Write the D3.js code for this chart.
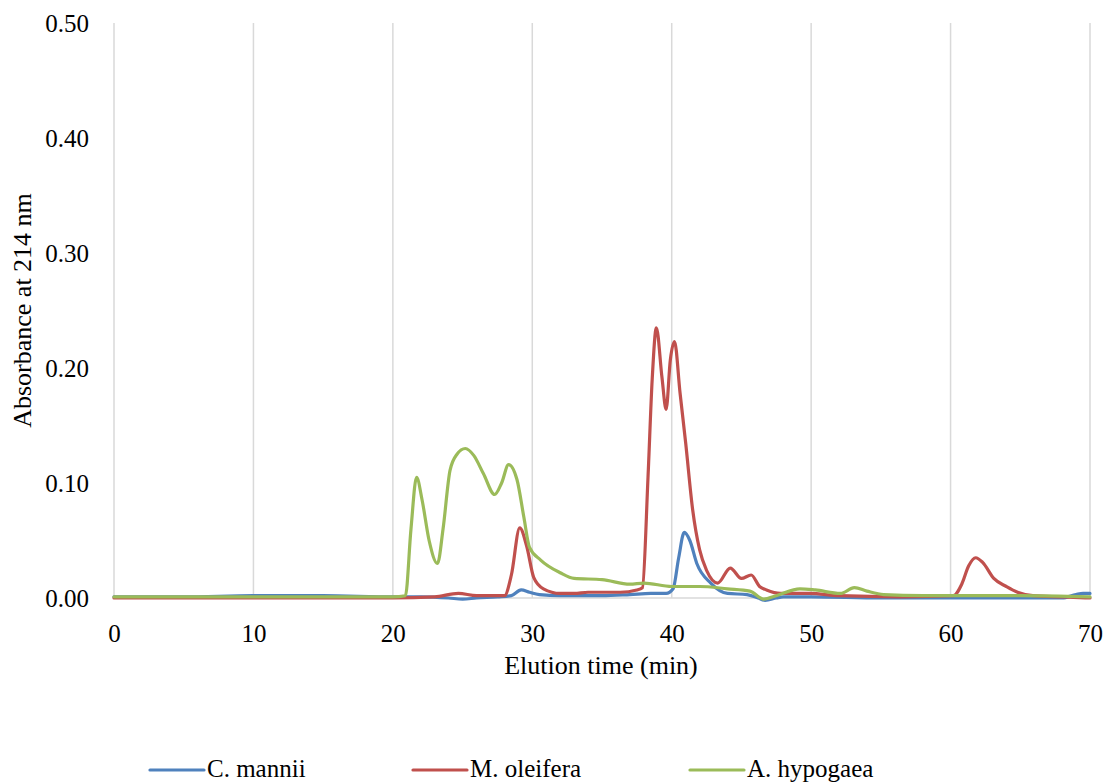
<!DOCTYPE html>
<html>
<head>
<meta charset="utf-8">
<script src="https://cdnjs.cloudflare.com/ajax/libs/d3/7.8.5/d3.min.js"></script>
<style>
  body { margin: 0; background: #fff; }
  svg text { font-family: "Liberation Serif", "Times New Roman", serif; fill: #000; }
</style>
</head>
<body>
<div id="chart"></div>
<script>
// elution time (min) and absorbance
var mannii_t = [0, 5, 10, 15, 20, 22, 24, 25, 26, 27.5, 28.5, 29.2, 29.8, 30.5, 32, 35, 37, 38.5, 39.6, 40.1, 40.5, 40.9, 41.3, 41.8, 42.8, 44, 45.4, 46.2, 46.7, 47.5, 48, 50, 55, 60, 65, 68, 69, 69.5, 70];
var mannii_v = [0.001, 0.001, 0.002, 0.002, 0.001, 0.001, 0.000, -0.001, 0.000, 0.001, 0.002, 0.007, 0.005, 0.003, 0.002, 0.002, 0.003, 0.004, 0.004, 0.008, 0.035, 0.057, 0.050, 0.030, 0.013, 0.004, 0.003, 0.000, -0.002, 0.000, 0.001, 0.001, 0.000, 0.000, 0.000, 0.000, 0.003, 0.004, 0.004];

var oleifera_t = [0, 10, 20, 23, 24.7, 26, 28, 28.5, 29.1, 29.6, 30.1, 30.8, 32, 33, 34, 35, 36.3, 37.5, 37.9, 38.3, 38.6, 38.9, 39.3, 39.6, 39.9, 40.2, 40.6, 41.0, 41.5, 42.0, 42.5, 43.3, 44.2, 45, 45.7, 46.3, 46.8, 47.8, 49.9, 52, 56.4, 60.2, 60.8, 61.3, 61.8, 62.3, 63.1, 64, 64.8, 65.9, 68, 70];
var oleifera_v = [0, 0, 0, 0.001, 0.004, 0.002, 0.002, 0.02, 0.061, 0.045, 0.018, 0.008, 0.004, 0.004, 0.005, 0.005, 0.005, 0.007, 0.009, 0.105, 0.19, 0.235, 0.192, 0.164, 0.207, 0.223, 0.178, 0.135, 0.077, 0.042, 0.024, 0.013, 0.026, 0.017, 0.020, 0.010, 0.007, 0.004, 0.004, 0.002, 0.001, 0.002, 0.012, 0.028, 0.035, 0.031, 0.017, 0.010, 0.005, 0.002, 0.001, 0.000];

var hypogaea_t = [0, 5, 10, 15, 20, 20.9, 21.3, 21.7, 22.1, 22.6, 23.2, 23.6, 24.1, 24.6, 25.2, 25.8, 26.5, 27.3, 27.8, 28.3, 28.9, 29.4, 29.8, 30.6, 32, 33, 35, 37, 38, 40, 42, 44, 45.6, 46.6, 47.5, 49.2, 50.3, 52.1, 53.1, 54, 55.2, 58, 60, 65, 70];
var hypogaea_v = [0.001, 0.001, 0.001, 0.001, 0.001, 0.002, 0.06, 0.105, 0.085, 0.05, 0.030, 0.06, 0.111, 0.125, 0.130, 0.124, 0.108, 0.090, 0.100, 0.116, 0.103, 0.070, 0.044, 0.033, 0.022, 0.017, 0.016, 0.012, 0.013, 0.010, 0.010, 0.008, 0.006, -0.001, 0.002, 0.008, 0.007, 0.004, 0.009, 0.006, 0.003, 0.002, 0.002, 0.002, 0.001];

var seriesNames = ["C. mannii", "M. oleifera", "A. hypogaea"];
var seriesColors = ["#4f81bd", "#c0504d", "#9bbb59"];
var xTicks = [0, 10, 20, 30, 40, 50, 60, 70];
var yTicks = [0, 0.1, 0.2, 0.3, 0.4, 0.5];

var width = 1110, height = 783;
var plotLeft = 114, plotRight = 1090, plotTop = 23, plotBottom = 598;

var svg = d3.select("#chart").append("svg")
    .attr("width", width)
    .attr("height", height);

var x = d3.scaleLinear().domain([0, 70]).range([plotLeft, plotRight]);
var y = d3.scaleLinear().domain([0, 0.5]).range([plotBottom, plotTop]);

// vertical grid lines
svg.append("g")
  .selectAll("line")
  .data(xTicks)
  .enter().append("line")
    .attr("x1", function(d) { return x(d); })
    .attr("x2", function(d) { return x(d); })
    .attr("y1", plotTop)
    .attr("y2", plotBottom)
    .attr("stroke", "#d9d9d9")
    .attr("stroke-width", 1.5);

// bottom axis line
svg.append("line")
    .attr("x1", plotLeft).attr("x2", plotRight)
    .attr("y1", plotBottom).attr("y2", plotBottom)
    .attr("stroke", "#d9d9d9")
    .attr("stroke-width", 1.5);

// x axis labels
var xAxis = d3.axisBottom(x).tickValues(xTicks).tickSize(0).tickPadding(26);
var gx = svg.append("g").attr("transform", "translate(0," + plotBottom + ")").call(xAxis);
gx.select(".domain").remove();
gx.selectAll("text").style("font-size", "25px").style("font-family", "Liberation Serif");

// y axis labels
var yAxis = d3.axisLeft(y).tickValues(yTicks).tickSize(0).tickPadding(25).tickFormat(d3.format(".2f"));
var gy = svg.append("g").attr("transform", "translate(" + plotLeft + ",0)").call(yAxis);
gy.select(".domain").remove();
gy.selectAll("text").style("font-size", "25px").style("font-family", "Liberation Serif");

// axis titles
svg.append("text")
    .attr("x", 601)
    .attr("y", 674)
    .attr("text-anchor", "middle")
    .style("font-size", "26px")
    .text("Elution time (min)");

svg.append("text")
    .attr("transform", "translate(31," + ((plotTop + plotBottom) / 2) + ") rotate(-90)")
    .attr("text-anchor", "middle")
    .style("font-size", "26px")
    .text("Absorbance at 214 nm");

// lines
var line = d3.line()
    .x(function(d) { return x(d[0]); })
    .y(function(d) { return y(d[1]); })
    .curve(d3.curveMonotoneX);

var allSeries = [
  d3.zip(mannii_t, mannii_v),
  d3.zip(oleifera_t, oleifera_v),
  d3.zip(hypogaea_t, hypogaea_v)
];

svg.append("g")
  .selectAll("path")
  .data(allSeries)
  .enter().append("path")
    .attr("d", line)
    .attr("fill", "none")
    .attr("stroke", function(d, i) { return seriesColors[i]; })
    .attr("stroke-width", 3.2)
    .attr("stroke-linejoin", "round")
    .attr("stroke-linecap", "round");

// legend
var legendX = [150, 413, 690];
var lg = svg.append("g")
  .selectAll("g")
  .data(seriesNames)
  .enter().append("g")
    .attr("transform", function(d, i) { return "translate(" + legendX[i] + ",770)"; });

lg.append("line")
    .attr("x1", 0).attr("x2", 54)
    .attr("y1", 0).attr("y2", 0)
    .attr("stroke", function(d, i) { return seriesColors[i]; })
    .attr("stroke-width", 3.2)
    .attr("stroke-linecap", "round");

lg.append("text")
    .attr("x", 57)
    .attr("y", 7)
    .style("font-size", "25px")
    .text(function(d) { return d; });
</script>
</body>
</html>
